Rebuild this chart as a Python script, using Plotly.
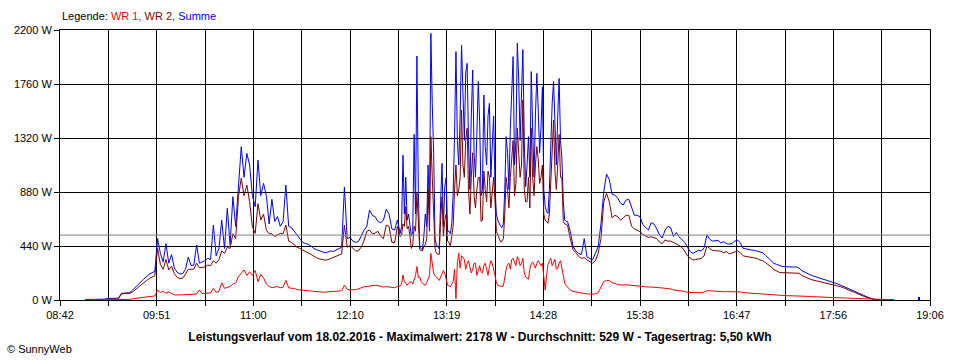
import plotly.graph_objects as go

# ---------------- data ----------------
START_MIN = 9 * 60      # first sample 09:00
STEP_MIN = 2            # one sample every 2 minutes (even minutes)

# Summe (blue), one row per hour (09:00 ... 18:40, even minutes)
summe = [
    5, 5, 5, 5, 5, 5, 5, 5, 12, 12, 12, 12, 15, 54, 55, 56, 60, 80, 105, 128, 148, 170, 192, 210, 222, 235, 500, 380, 310, 460,
    300, 370, 260, 225, 212, 215, 250, 350, 280, 285, 448, 300, 310, 320, 340, 330, 611, 360, 420, 650, 420, 747, 450, 842, 600, 937, 1249, 1000, 1195, 1100,
    850, 760, 1140, 850, 950, 850, 620, 820, 640, 680, 600, 640, 937, 600, 590, 560, 530, 490, 470, 460, 455, 440, 420, 410, 400, 395, 385, 390, 400, 395,
    405, 420, 430, 920, 500, 510, 480, 470, 475, 520, 570, 597, 733, 690, 679, 640, 630, 650, 740, 700, 580, 570, 652, 543, 1180, 1000, 700, 520, 1350, 1988,
    430, 410, 700, 1100, 2173, 1200, 450, 420, 1113, 923, 560, 540, 870, 2024, 1100, 2078, 1300, 1928, 900, 1874, 1000, 1780, 850, 1670, 1100, 1602, 1300, 923, 650, 600,
    620, 1331, 900, 1711, 1100, 2092, 1300, 2040, 923, 1331, 1861, 1000, 1847, 1200, 1738, 760, 706, 1331, 1779, 1100, 1806, 1150, 652, 640, 560, 435, 400, 380, 370, 500,
    350, 340, 326, 380, 435, 620, 880, 1026, 980, 860, 855, 830, 790, 774, 815, 820, 747, 690, 690, 679, 615, 590, 570, 630, 620, 580, 530, 505, 570, 600,
    590, 516, 550, 516, 495, 470, 430, 394, 380, 390, 405, 400, 425, 530, 495, 480, 482, 485, 465, 475, 460, 455, 460, 480, 489, 465, 421, 415, 410, 407,
    405, 400, 394, 385, 365, 345, 322, 299, 290, 280, 274, 272, 270, 266, 268, 270, 260, 240, 226, 215, 205, 197, 190, 180, 173, 165, 158, 150, 142, 138,
    130, 120, 110, 96, 88, 78, 70, 58, 48, 38, 28, 20, 10, 5, 4, 4, 4, 4, 4, 4, 4,
]

# WR 2 (dark red)
wr2 = [
    3, 3, 3, 3, 3, 3, 3, 3, 8, 8, 8, 8, 10, 50, 52, 52, 55, 65, 85, 105, 122, 138, 158, 175, 188, 196, 420, 290, 250, 330,
    245, 275, 215, 185, 175, 178, 210, 250, 250, 252, 300, 262, 265, 270, 285, 280, 320, 300, 330, 400, 380, 430, 420, 540, 500, 842, 992, 850, 937, 801,
    597, 543, 785, 652, 700, 570, 540, 540, 516, 530, 543, 540, 611, 480, 470, 450, 430, 420, 405, 395, 385, 370, 355, 345, 335, 330, 325, 328, 338, 345,
    360, 365, 375, 610, 430, 445, 420, 400, 400, 430, 480, 560, 570, 540, 545, 560, 520, 500, 610, 600, 470, 465, 600, 516, 620, 760, 600, 420, 600, 870,
    410, 400, 450, 900, 1331, 700, 380, 370, 842, 650, 480, 440, 600, 1100, 900, 1548, 1000, 1400, 700, 1200, 750, 1000, 640, 1050, 800, 1000, 900, 800, 530, 475,
    500, 1000, 750, 1200, 850, 1400, 1000, 1630, 800, 1000, 1400, 850, 1250, 950, 1100, 650, 625, 1000, 1467, 900, 1350, 1000, 620, 610, 500, 410, 385, 355, 340, 345,
    326, 315, 300, 320, 380, 500, 800, 869, 800, 670, 690, 680, 650, 670, 690, 690, 600, 580, 570, 557, 535, 520, 510, 515, 510, 500, 470, 460, 490, 480,
    480, 470, 460, 445, 430, 400, 360, 339, 326, 330, 335, 340, 360, 440, 420, 405, 402, 400, 398, 385, 395, 375, 385, 395, 400, 385, 359, 355, 350, 345,
    343, 338, 326, 320, 305, 290, 270, 248, 238, 225, 223, 223, 223, 223, 223, 222, 218, 200, 188, 177, 170, 163, 158, 152, 146, 140, 136, 130, 123, 120,
    116, 108, 100, 88, 80, 70, 62, 50, 40, 32, 24, 16, 8, 5, 4, 3, 3, 3, 3, 3, 3,
]

# WR 1 (red)
wr1 = [
    0, 0, 0, 0, 0, 0, 0, 0, 0, 0, 0, 0, 0, 0, 0, 0, 5, 10, 14, 18, 20, 22, 25, 28, 30, 33, 80, 62, 70, 55,
    65, 50, 42, 41, 41, 41, 42, 43, 45, 48, 50, 82, 52, 54, 56, 58, 95, 62, 70, 140, 95, 100, 110, 130, 140, 190, 220, 245, 200, 230,
    200, 240, 150, 210, 180, 130, 110, 100, 105, 110, 100, 105, 160, 100, 95, 95, 85, 82, 80, 78, 75, 72, 70, 68, 66, 64, 64, 65, 66, 68,
    70, 72, 75, 122, 88, 82, 82, 85, 90, 100, 108, 110, 115, 118, 120, 118, 109, 105, 109, 105, 100, 100, 110, 115, 204, 130, 136, 150, 170, 272,
    190, 136, 120, 170, 380, 217, 180, 160, 217, 217, 120, 109, 150, 10, 380, 360, 330, 300, 260, 250, 300, 240, 230, 280, 250, 270, 300, 200, 120, 109,
    115, 250, 300, 330, 300, 353, 280, 340, 190, 170, 300, 290, 300, 300, 300, 80, 288, 340, 300, 250, 300, 260, 136, 109, 80, 70, 65, 60, 55, 52,
    50, 48, 48, 50, 60, 100, 150, 158, 158, 140, 136, 125, 122, 122, 124, 122, 120, 112, 110, 109, 108, 108, 106, 106, 106, 104, 100, 98, 96, 94,
    90, 82, 80, 76, 74, 70, 62, 60, 60, 60, 60, 60, 64, 76, 74, 72, 70, 70, 68, 68, 68, 68, 68, 68, 68, 66, 60, 58, 56, 54,
    53, 52, 50, 48, 46, 45, 42, 41, 40, 40, 38, 36, 35, 35, 34, 34, 33, 32, 31, 30, 29, 27, 27, 26, 25, 24, 22, 21, 20, 19,
    18, 17, 16, 15, 14, 12, 10, 9, 8, 7, 6, 5, 4, 3, 2, 2, 1, 1, 1, 1, 1,
]

# extra readings at the odd minutes of the gusty midday period (12:47 ... 14:45)
ODD_START_MIN = 12 * 60 + 47
summe_odd = [
    600, 700, 650, 620, 560, 700, 900,
    420, 520, 600, 700, 1600, 500, 430, 800, 600, 1000, 560, 620, 1350, 1300, 1500, 1700, 1850, 1300, 1500, 1200, 1350, 1450, 900, 1250, 1500, 1000, 1500, 700, 620, 590,
    900, 1200, 1400, 1983, 1300, 1800, 1600, 1300, 1100, 1000, 1400, 1500, 1550, 1400, 900, 720, 900, 1600, 1400, 1500, 1300, 800, 640,
]
wr2_odd = [
    530, 600, 580, 520, 450, 560, 650,
    405, 440, 500, 560, 1000, 420, 375, 650, 520, 700, 470, 520, 900, 850, 1000, 1100, 1300, 900, 1000, 850, 900, 1000, 650, 900, 1050, 750, 1000, 560, 500, 480,
    700, 900, 1000, 1300, 950, 1200, 1100, 900, 800, 750, 1000, 1100, 1150, 1000, 700, 640, 700, 1200, 1050, 1100, 1000, 640, 615,
]
wr1_odd = [
    130, 150, 120, 140, 130, 200, 180,
    150, 125, 140, 200, 280, 200, 170, 190, 240, 160, 115, 130, 250, 300, 260, 350, 250, 320, 220, 300, 200, 280, 220, 300, 200, 320, 260, 140, 115, 110,
    200, 290, 250, 340, 280, 330, 300, 220, 180, 250, 310, 260, 320, 280, 150, 200, 320, 280, 330, 260, 320, 180, 120,
]

# isolated late reading of Summe
blip_min = [18 * 60 + 58]
blip_w = [25]

x_labels = ["08:42", "09:51", "11:00", "12:10", "13:19", "14:28", "15:38", "16:47", "17:56", "19:06"]
y_ticks = [0, 440, 880, 1320, 1760, 2200]
DURCHSCHNITT = 529
TITLE = "Leistungsverlauf vom 18.02.2016 - Maximalwert: 2178 W - Durchschnitt: 529 W - Tagesertrag: 5,50 kWh"

# ---------------- figure ----------------
def hm(s):
    h, m = s.split(":")
    return int(h) * 60 + int(m)


def merged(main, odd):
    pts = [(START_MIN + STEP_MIN * i, v) for i, v in enumerate(main)]
    pts += [(ODD_START_MIN + 2 * k, v) for k, v in enumerate(odd)]
    pts.sort(key=lambda p: p[0])
    return [p[0] for p in pts], [p[1] for p in pts]


X0, X1 = hm(x_labels[0]), hm(x_labels[-1])
tickvals = [X0 + k * (X1 - X0) / (len(x_labels) - 1) for k in range(len(x_labels))]

FONT = "Liberation Sans, Arial, sans-serif"

fig = go.Figure()
tx, ty = merged(summe, summe_odd)
fig.add_trace(go.Scatter(x=tx, y=ty, mode="lines", name="Summe",
                         line=dict(color="#0000FF", width=1, shape="linear")))
fig.add_trace(go.Bar(x=blip_min, y=blip_w, width=0.75, marker=dict(color="#0000FF", line=dict(width=0)),
                     showlegend=False))
tx, ty = merged(wr2, wr2_odd)
fig.add_trace(go.Scatter(x=tx, y=ty, mode="lines", name="WR 2",
                         line=dict(color="#800000", width=1, shape="linear")))
tx, ty = merged(wr1, wr1_odd)
fig.add_trace(go.Scatter(x=tx, y=ty, mode="lines", name="WR 1",
                         line=dict(color="#FF0000", width=1, shape="linear")))

fig.add_shape(type="line", xref="paper", x0=0, x1=1, yref="y", y0=DURCHSCHNITT, y1=DURCHSCHNITT,
              line=dict(color="#808080", width=1), layer="above")

fig.update_layout(
    width=960, height=360,
    margin=dict(l=60, r=30, t=30, b=60, pad=0),
    paper_bgcolor="white", plot_bgcolor="white",
    showlegend=False,
    font=dict(family=FONT, size=11, color="black"),
    title=dict(text="<b>" + TITLE + "</b>", x=0.5, xref="container", xanchor="center",
               y=1 - 337 / 360, yref="container", yanchor="middle",
               font=dict(family=FONT, size=12, color="black")),
    xaxis=dict(range=[X0, X1], tickmode="array", tickvals=tickvals, ticktext=x_labels,
               ticks="outside", ticklen=5, tickcolor="black", tickwidth=1,
               showgrid=True, gridcolor="black", gridwidth=1,
               showline=True, linecolor="black", linewidth=1, mirror=True, zeroline=False,
               minor=dict(tickmode="linear", tick0=X0, dtick=(X1 - X0) / 18, ticks="outside",
                          ticklen=5, tickcolor="black", showgrid=True, gridcolor="black", gridwidth=1),
               fixedrange=True),
    yaxis=dict(range=[0, 2200], tickmode="array", tickvals=y_ticks, ticktext=[f"{v} W" for v in y_ticks],
               ticks="outside", ticklen=5, tickcolor="black", tickwidth=1,
               showgrid=True, gridcolor="black", gridwidth=1,
               showline=True, linecolor="black", linewidth=1, mirror=True, zeroline=False,
               fixedrange=True),
    annotations=[
        dict(text="Legende: <span style='color:#FF0000'>WR 1, </span><span style='color:#800000'>WR 2, </span>"
                  "<span style='color:#0000FF'>Summe</span>",
             xref="paper", yref="paper", x=0, y=(300 - 16) / 270, xanchor="left", yanchor="middle",
             showarrow=False, font=dict(family=FONT, size=11, color="black")),
        dict(text="© SunnyWeb", xref="paper", yref="paper", x=(5 - 60) / 870, y=(300 - 349) / 270,
             xanchor="left", yanchor="middle", showarrow=False, font=dict(family=FONT, size=11, color="black")),
    ],
)

fig.write_html("out.html", config={"displayModeBar": False},
               post_script="document.body.style.margin='0';document.body.style.overflow='hidden';")
